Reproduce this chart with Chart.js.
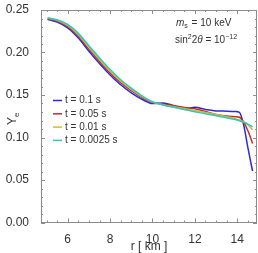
<!DOCTYPE html>
<html>
<head>
<meta charset="utf-8">
<script src="https://cdn.jsdelivr.net/npm/chart.js@4.4.1/dist/chart.umd.min.js"></script>
<style>
  html, body { margin: 0; padding: 0; background: #fff; }
  #wrap { width: 258px; height: 253px; }
</style>
</head>
<body>
<div id="wrap"><canvas id="chart"></canvas></div>
<script>
// radius grid [km] and Y_e for each snapshot
const radius = [5.05, 5.5, 6, 6.5, 7, 7.5, 8, 8.5, 9, 9.5, 10, 10.5, 11, 11.5, 12, 12.5, 13, 13.5, 13.9, 14.1, 14.3, 14.5, 14.72];

const yeT01 = [0.2388, 0.2358, 0.2290, 0.2170, 0.2015, 0.1870, 0.1735, 0.1620, 0.1525, 0.1450, 0.1400, 0.1405, 0.1375, 0.1335, 0.1355, 0.1330, 0.1312, 0.1310, 0.1305, 0.1295, 0.1150, 0.0880, 0.0606];
const yeT005 = [0.2397, 0.2370, 0.2306, 0.2190, 0.2040, 0.1895, 0.1760, 0.1645, 0.1550, 0.1470, 0.1412, 0.1392, 0.1375, 0.1352, 0.1337, 0.1305, 0.1270, 0.1252, 0.1245, 0.1238, 0.1180, 0.1080, 0.0930];
const yeT001 = [0.2403, 0.2378, 0.2318, 0.2208, 0.2060, 0.1915, 0.1780, 0.1662, 0.1565, 0.1480, 0.1416, 0.1385, 0.1362, 0.1340, 0.1318, 0.1295, 0.1270, 0.1245, 0.1222, 0.1205, 0.1185, 0.1150, 0.1090];
const yeT00025 = [0.2408, 0.2385, 0.2330, 0.2225, 0.2080, 0.1935, 0.1800, 0.1680, 0.1580, 0.1490, 0.1420, 0.1383, 0.1357, 0.1330, 0.1302, 0.1280, 0.1255, 0.1232, 0.1212, 0.1198, 0.1180, 0.1158, 0.1126];

const seriesLabels = ['t = 0.1 s', 't = 0.05 s', 't = 0.01 s', 't = 0.0025 s'];
const seriesColors = ['#2b2bd0', '#c42a2a', '#c9c22a', '#2ec4c4'];

const xTicks = [6, 8, 10, 12, 14];
const yTicks = [0, 0.05, 0.10, 0.15, 0.20, 0.25];

const FONT = '"Liberation Sans", Arial, sans-serif';
const TEXT = '#333';
const FRAME = '#8c8c8c';

function pairs(ys) {
  return ys.map((y, i) => ({ x: radius[i], y }));
}

// frame, inward ticks on all four sides, legend, annotations, axis titles
const decorations = {
  id: 'decorations',
  afterDatasetsDraw(chart) {
    const { ctx, chartArea: a, scales } = chart;
    const xs = scales.x;
    const ys = scales.y;
    ctx.save();

    ctx.strokeStyle = FRAME;
    ctx.lineWidth = 1;
    ctx.strokeRect(Math.round(a.left) + 0.5, Math.round(a.top) + 0.5,
      Math.round(a.right - a.left) - 1, Math.round(a.bottom - a.top) - 1);

    const tick = (x1, y1, x2, y2) => {
      ctx.beginPath();
      ctx.moveTo(x1, y1);
      ctx.lineTo(x2, y2);
      ctx.stroke();
    };
    for (let v = 5; v <= 14.9; v += 0.5) {
      const len = Math.abs(v % 2) < 1e-6 ? 4 : 2;
      const px = Math.round(xs.getPixelForValue(v)) + 0.5;
      tick(px, a.bottom, px, a.bottom - len);
      tick(px, a.top, px, a.top + len);
    }
    for (let i = 0; i <= 25; i++) {
      const v = i / 100;
      const len = i % 5 === 0 ? 4 : 2;
      const py = Math.round(ys.getPixelForValue(v)) + 0.5;
      tick(a.left, py, a.left + len, py);
      tick(a.right, py, a.right - len, py);
    }

    // legend
    ctx.font = '10px ' + FONT;
    ctx.textBaseline = 'middle';
    chart.data.datasets.forEach((ds, i) => {
      const y = 100.5 + i * 13.3;
      ctx.strokeStyle = ds.borderColor;
      ctx.lineWidth = 1.5;
      tick(53, y, 62, y);
      ctx.fillStyle = TEXT;
      ctx.textAlign = 'left';
      ctx.fillText(ds.label, 65, y);
    });

    // parameter annotation
    ctx.fillStyle = TEXT;
    ctx.textAlign = 'left';
    ctx.textBaseline = 'alphabetic';
    let x = 176;
    ctx.font = 'italic 10px ' + FONT;
    ctx.fillText('m', x, 26);
    x += ctx.measureText('m').width;
    ctx.font = '7px ' + FONT;
    ctx.fillText('s', x, 28);
    x += ctx.measureText('s').width + 1;
    ctx.font = '10px ' + FONT;
    ctx.fillText(' = 10 keV', x, 26);

    x = 175;
    const by = 43;
    ctx.fillText('sin', x, by);
    x += ctx.measureText('sin').width;
    ctx.font = '7px ' + FONT;
    ctx.fillText('2', x, by - 4);
    x += ctx.measureText('2').width;
    ctx.font = '10px ' + FONT;
    ctx.fillText('2', x, by);
    x += ctx.measureText('2').width;
    ctx.font = 'italic 10px ' + FONT;
    ctx.fillText('\u03b8', x, by);
    x += ctx.measureText('\u03b8').width;
    ctx.font = '10px ' + FONT;
    ctx.fillText(' = 10', x, by);
    x += ctx.measureText(' = 10').width;
    ctx.font = '7px ' + FONT;
    ctx.fillText('\u221212', x, by - 4);

    // x axis title
    ctx.font = '12px ' + FONT;
    ctx.textAlign = 'center';
    ctx.textBaseline = 'middle';
    ctx.fillText('r [ km ]', (a.left + a.right) / 2, 246.5);

    // y axis title Y_e
    ctx.translate(16, 120);
    ctx.rotate(-Math.PI / 2);
    ctx.textAlign = 'left';
    ctx.textBaseline = 'alphabetic';
    ctx.font = '12px ' + FONT;
    ctx.fillText('Y', -5, 0);
    const w = ctx.measureText('Y').width;
    ctx.font = '8px ' + FONT;
    ctx.fillText('e', -5 + w, 3);

    ctx.restore();
  },
};

new Chart(document.getElementById('chart'), {
  type: 'line',
  data: {
    datasets: [yeT01, yeT005, yeT001, yeT00025].map((ys, i) => ({
      label: seriesLabels[i],
      data: pairs(ys),
      borderColor: seriesColors[i],
      borderWidth: 1.5,
      pointRadius: 0,
      fill: false,
      cubicInterpolationMode: 'monotone',
      order: 3 - i,
    })),
  },
  options: {
    responsive: true,
    maintainAspectRatio: false,
    animation: false,
    devicePixelRatio: 1,
    layout: { padding: { left: 0, right: 1, top: 0, bottom: 0 } },
    plugins: {
      legend: { display: false },
      tooltip: { enabled: false },
    },
    scales: {
      x: {
        type: 'linear',
        min: 4.74,
        max: 14.93,
        grid: { display: false },
        border: { display: false },
        afterBuildTicks: s => { s.ticks = xTicks.map(v => ({ value: v })); },
        afterFit: s => { s.height = 30.5; },
        ticks: {
          font: { family: FONT, size: 12, lineHeight: 1 },
          color: TEXT,
          padding: 3,
          maxRotation: 0,
          callback: v => String(v),
        },
      },
      y: {
        min: 0,
        max: 0.25,
        grid: { display: false },
        border: { display: false },
        afterBuildTicks: s => { s.ticks = yTicks.map(v => ({ value: v })); },
        afterFit: s => { s.width = 41; },
        ticks: {
          font: { family: FONT, size: 12, lineHeight: 1 },
          color: TEXT,
          padding: 4,
          callback: v => v.toFixed(2),
        },
      },
    },
  },
  plugins: [decorations],
});
</script>
</body>
</html>
